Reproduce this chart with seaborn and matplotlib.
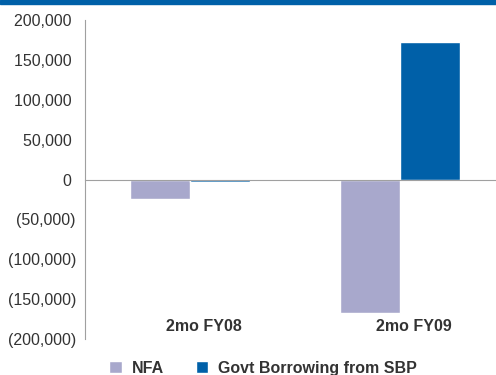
import seaborn as sns
import matplotlib.pyplot as plt
import pandas as pd
from matplotlib.ticker import FuncFormatter

sns.set_style('white')
plt.rcParams['font.family'] = ['Liberation Sans', 'DejaVu Sans']

# data
periods = ['2mo FY08', '2mo FY09']
series = ['NFA', 'Govt Borrowing from SBP']
nfa = [-25000, -167000]
govt = [-3000, 172000]

df = pd.DataFrame({
    'period': periods * 2,
    'series': [series[0]] * 2 + [series[1]] * 2,
    'value': nfa + govt,
})

fig = plt.figure(figsize=(4.96, 3.75), dpi=100)
ax = fig.add_axes([85 / 496, 1 - 339 / 375, 420 / 496, 319 / 375])

sns.barplot(data=df, x='period', y='value', hue='series',
            palette=['#A8A8CC', '#0060A8'], width=0.576,
            saturation=1, ax=ax, legend=True)


def acct(v, p):
    # accounting style: negatives in brackets, positives padded
    if v == 0:
        return '0 '
    if v > 0:
        return f'{v:,.0f} '
    return f'({-v:,.0f})'


ax.set_xlim(-0.5, 1.5)
ax.set_ylim(-200000, 200000)
ax.set_yticks(range(-200000, 200001, 50000))
ax.yaxis.set_major_formatter(FuncFormatter(acct))
ax.tick_params(axis='y', length=3, width=0.8, color='#A0A0A0',
               labelsize=11.5, labelcolor='#333333', pad=3.5)

# category axis sits at zero, labels at the bottom
ax.spines['bottom'].set_position(('data', 0))
for s in ['top', 'right']:
    ax.spines[s].set_visible(False)
for s in ['left', 'bottom']:
    ax.spines[s].set_color('#A0A0A0')
    ax.spines[s].set_linewidth(0.8)
ax.set_xticks([-0.5, 0.5, 1.5])
ax.set_xticklabels([])
ax.tick_params(axis='x', length=4, width=0.8, color='#A0A0A0')
for i, lab in enumerate(periods):
    ax.text(i + 0.067, 0.04, lab, transform=ax.get_xaxis_transform(),
            ha='center', va='center', fontsize=11.5, fontweight='bold',
            color='#333333')
ax.set_xlabel('')
ax.set_ylabel('')

handles, labels = ax.get_legend_handles_labels()
ax.get_legend().remove()
leg = fig.legend(handles, labels, loc='lower center',
                 bbox_to_anchor=(263 / 496, -0.04), ncol=2, frameon=False,
                 handlelength=0.8, handleheight=0.8, handletextpad=0.6,
                 columnspacing=2.0, prop={'size': 11.5, 'weight': 'bold'})
for t in leg.get_texts():
    t.set_color('#333333')

# blue band along the top edge
fig.add_artist(plt.Rectangle((0, 1 - 4 / 375), 1, 4 / 375,
                             transform=fig.transFigure, color='#0060A8'))

fig.savefig('out.png', dpi=100)
